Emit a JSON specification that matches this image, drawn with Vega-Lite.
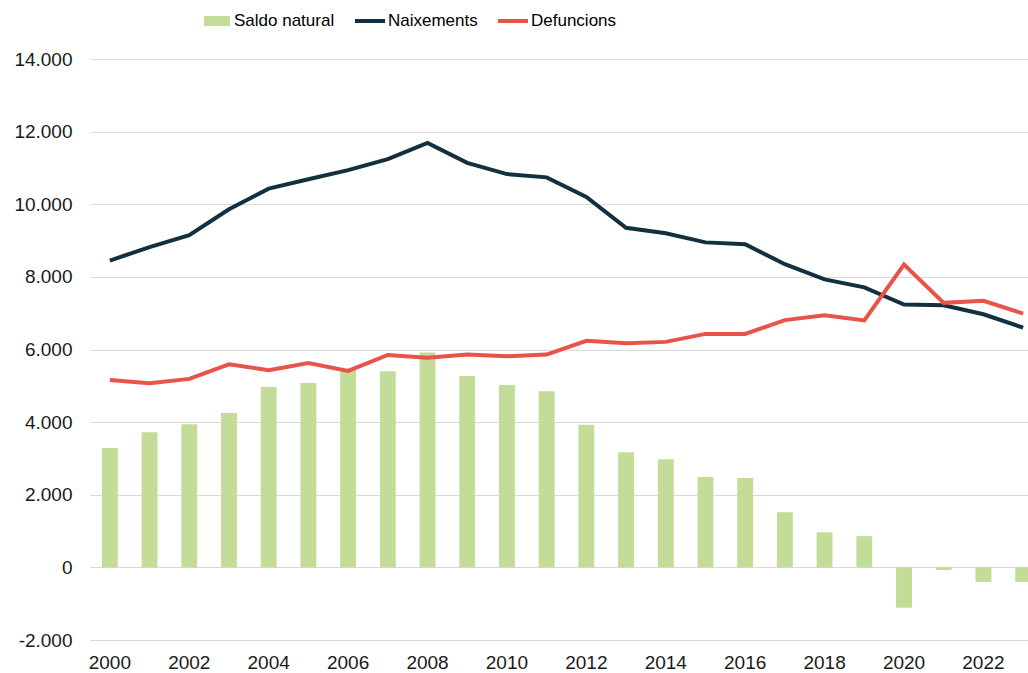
{
  "$schema": "https://vega.github.io/schema/vega-lite/v6.json",
  "width": 938,
  "height": 581,
  "autosize": {"type": "none"},
  "padding": {"left": 90, "top": 59, "right": 0, "bottom": 33},
  "background": "white",
  "config": {
    "locale": {"number": {"decimal": ",", "thousands": ".", "grouping": [3], "currency": ["", " €"], "minus": "-"}},
    "view": {"stroke": null},
    "font": "Liberation Sans"
  },
  "data": {"values": [
    {"year": 2000, "Saldo natural": 3290, "Naixements": 8450, "Defuncions": 5160},
    {"year": 2001, "Saldo natural": 3720, "Naixements": 8820, "Defuncions": 5070},
    {"year": 2002, "Saldo natural": 3940, "Naixements": 9150, "Defuncions": 5190},
    {"year": 2003, "Saldo natural": 4250, "Naixements": 9860, "Defuncions": 5590},
    {"year": 2004, "Saldo natural": 4970, "Naixements": 10430, "Defuncions": 5430},
    {"year": 2005, "Saldo natural": 5080, "Naixements": 10690, "Defuncions": 5630},
    {"year": 2006, "Saldo natural": 5480, "Naixements": 10940, "Defuncions": 5410},
    {"year": 2007, "Saldo natural": 5400, "Naixements": 11240, "Defuncions": 5850},
    {"year": 2008, "Saldo natural": 5920, "Naixements": 11690, "Defuncions": 5770},
    {"year": 2009, "Saldo natural": 5270, "Naixements": 11140, "Defuncions": 5860},
    {"year": 2010, "Saldo natural": 5020, "Naixements": 10830, "Defuncions": 5815},
    {"year": 2011, "Saldo natural": 4850, "Naixements": 10740, "Defuncions": 5860},
    {"year": 2012, "Saldo natural": 3930, "Naixements": 10200, "Defuncions": 6240},
    {"year": 2013, "Saldo natural": 3170, "Naixements": 9350, "Defuncions": 6175},
    {"year": 2014, "Saldo natural": 2980, "Naixements": 9200, "Defuncions": 6210},
    {"year": 2015, "Saldo natural": 2490, "Naixements": 8950, "Defuncions": 6430},
    {"year": 2016, "Saldo natural": 2460, "Naixements": 8900, "Defuncions": 6430},
    {"year": 2017, "Saldo natural": 1520, "Naixements": 8350, "Defuncions": 6810},
    {"year": 2018, "Saldo natural": 965, "Naixements": 7930, "Defuncions": 6945},
    {"year": 2019, "Saldo natural": 860, "Naixements": 7710, "Defuncions": 6800},
    {"year": 2020, "Saldo natural": -1110, "Naixements": 7240, "Defuncions": 8340},
    {"year": 2021, "Saldo natural": -70, "Naixements": 7220, "Defuncions": 7285},
    {"year": 2022, "Saldo natural": -400, "Naixements": 6970, "Defuncions": 7340},
    {"year": 2023, "Saldo natural": -400, "Naixements": 6600, "Defuncions": 6990}
  ]},
  "transform": [{"fold": ["Saldo natural", "Naixements", "Defuncions"], "as": ["series", "value"]}],
  "encoding": {
    "x": {
      "field": "year", "type": "ordinal",
      "scale": {"range": [0, 953], "paddingInner": 0.6, "paddingOuter": 0.3},
      "axis": {
        "title": null, "values": [2000, 2002, 2004, 2006, 2008, 2010, 2012, 2014, 2016, 2018, 2020, 2022],
        "labelAngle": 0, "domain": false, "ticks": false, "grid": false,
        "labelFont": "Liberation Sans", "labelFontSize": 19, "labelColor": "#1a1a1a", "labelPadding": 13
      }
    },
    "y": {
      "field": "value", "type": "quantitative",
      "scale": {"domain": [-2000, 14000], "nice": false, "zero": false},
      "axis": {
        "title": null, "values": [-2000, 0, 2000, 4000, 6000, 8000, 10000, 12000, 14000],
        "format": ",.0f", "domain": false, "ticks": false, "grid": true, "gridColor": "#d9d9d9", "gridWidth": 1,
        "labelFont": "Liberation Sans", "labelFontSize": 19, "labelColor": "#1a1a1a", "labelPadding": 18
      }
    },
    "color": {
      "field": "series", "type": "nominal",
      "scale": {"domain": ["Saldo natural", "Naixements", "Defuncions"], "range": ["#c3dc98", "#12303f", "#e8534a"]},
      "legend": {
        "title": null, "orient": "none", "legendX": 111, "legendY": -53, "direction": "horizontal",
        "padding": 0, "columnPadding": 20, "labelOffset": 3,
        "labelFont": "Liberation Sans", "labelFontSize": 17, "labelColor": "#000000",
        "symbolSize": 900, "symbolStrokeWidth": 0,
        "encode": {
          "symbols": {
            "update": {
              "shape": {"signal": "datum.value === 'Saldo natural' ? 'M-0.8,-0.33H0.93V0.33H-0.8Z' : 'M-1,-0.133H1V0.133H-1Z'"},
              "fill": {"signal": "datum.value === 'Saldo natural' ? '#c3dc98' : (datum.value === 'Naixements' ? '#12303f' : '#e8534a')"},
              "stroke": {"value": "transparent"},
              "strokeWidth": {"value": 0},
              "size": {"value": 900},
              "opacity": {"value": 1}
            }
          }
        }
      }
    }
  },
  "layer": [
    {"transform": [{"filter": "datum.series === 'Saldo natural'"}], "mark": {"type": "bar"}},
    {"transform": [{"filter": "datum.series === 'Naixements'"}], "mark": {"type": "line", "strokeWidth": 4}},
    {"transform": [{"filter": "datum.series === 'Defuncions'"}], "mark": {"type": "line", "strokeWidth": 4}}
  ]
}
